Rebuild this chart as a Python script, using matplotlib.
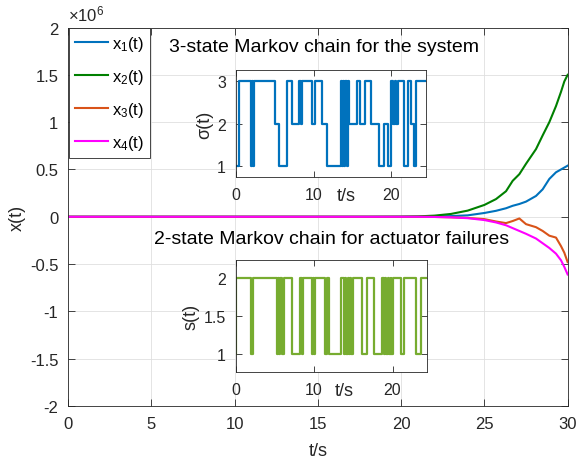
import numpy as np
import matplotlib
matplotlib.use("Agg")
import matplotlib.pyplot as plt
from matplotlib.ticker import FuncFormatter

plt.rcParams['font.family'] = ['Liberation Sans', 'DejaVu Sans']
plt.rcParams['mathtext.fontset'] = 'custom'
plt.rcParams['mathtext.rm'] = 'Liberation Sans'
plt.rcParams['mathtext.it'] = 'Liberation Sans:italic'
plt.rcParams['axes.unicode_minus'] = False

# ------- data (x values in units of 1e6) -------
t = [0, 10, 15, 18, 20, 21, 22, 23, 24, 25, 25.7, 26.3, 26.7, 27.1, 27.5,
     28.1, 28.5, 28.9, 29.3, 29.6, 29.8, 30]
x1 = [0, 0, 0, 0, 0.001, 0.002, 0.004, 0.007, 0.015, 0.04, 0.063, 0.09, 0.116,
      0.135, 0.16, 0.22, 0.29, 0.40, 0.47, 0.50, 0.52, 0.54]
x2 = [0, 0, 0, 0, 0.001, 0.004, 0.012, 0.03, 0.065, 0.125, 0.187, 0.27, 0.38,
      0.45, 0.56, 0.715, 0.86, 1.0, 1.17, 1.32, 1.43, 1.50]
x3 = [0, 0, 0, 0, 0, 0, -0.002, -0.006, -0.012, -0.025, -0.05, -0.067, -0.045,
      -0.018, -0.078, -0.11, -0.15, -0.2, -0.22, -0.31, -0.38, -0.48]
x4 = [0, 0, 0, 0, 0, 0, -0.002, -0.006, -0.015, -0.035, -0.06, -0.09, -0.12,
      -0.15, -0.18, -0.23, -0.28, -0.33, -0.39, -0.46, -0.53, -0.61]
labels = [r'x$_\mathregular{1}$(t)', r'x$_\mathregular{2}$(t)',
          r'x$_\mathregular{3}$(t)', r'x$_\mathregular{4}$(t)']

# 3-state Markov chain (switch times, new state)
sig_t = [0, 0.48, 1.97, 2.1, 2.2, 2.36, 5.0, 5.6, 6.6, 7.23, 8.2, 8.35, 8.5,
         9.8, 10.2, 11.05, 11.7, 13.5, 13.65, 13.8, 13.95, 14.1, 14.25, 14.4,
         14.6, 15.6, 16.0, 16.55, 17.4, 18.35, 19.0, 19.54, 19.97, 20.15, 20.4,
         20.6, 20.8, 21.6, 22.1, 22.45, 22.9, 23.2, 24.4]
sig_v = [1, 3, 1, 3, 1, 3, 2, 1, 3, 2, 3, 2, 3,
         2, 3, 2, 1, 3, 1, 3, 1, 3, 1, 3,
         2, 3, 2, 3, 2, 1, 2, 1, 3, 2, 3,
         2, 3, 1, 3, 2, 1, 3, 3]

# 2-state Markov chain (actuator failures)
s_t = [0, 0.05, 1.9, 2.2, 5.26, 5.4, 5.5, 5.68, 5.85, 6.1, 7.18, 8.24, 8.4,
       8.55, 9.74, 9.9, 10.0, 10.17, 11.45, 11.6, 11.88, 13.37, 13.8, 13.95,
       14.1, 14.3, 14.45, 14.6, 14.75, 14.9, 16.15, 16.8, 17.65, 18.7, 18.85,
       19.0, 19.2, 19.4, 19.55, 19.75, 19.85, 20.0, 21.06, 21.5, 23.0, 23.6, 24.4]
s_v = [1, 2, 1, 2, 1, 2, 1, 2, 1, 2, 1, 2, 1,
       2, 1, 2, 1, 2, 1, 2, 1, 2, 1, 2,
       1, 2, 1, 2, 1, 2, 1, 2, 1, 2, 1,
       2, 1, 2, 1, 2, 1, 2, 1, 2, 1, 2, 2]

colors = ['#0072BD', '#008000', '#D95319', '#FF00FF']
TXT = '#262626'
GRID = '#DFDFDF'

fig = plt.figure(figsize=(5.78, 4.6), dpi=100)

# ------- main axes -------
ax = fig.add_axes([0.1176, 0.1152, 0.8645, 0.8228])
for y, c, lab in zip([x1, x2, x3, x4], colors, labels):
    ax.plot(t, y, color=c, lw=1.5, label=lab)
ax.set_xlim(0, 30)
ax.set_ylim(-2, 2)
ax.set_xticks(np.arange(0, 31, 5))
ax.set_yticks(np.arange(-2, 2.01, 0.5))
ax.yaxis.set_major_formatter(FuncFormatter(lambda v, p: f'{v:g}'))
ax.grid(True, color=GRID, lw=0.6)
ax.set_axisbelow(True)
ax.tick_params(direction='in', top=True, right=True, length=5, width=0.6,
               labelsize=12, colors=TXT, pad=7)
for sp in ax.spines.values():
    sp.set_color(TXT)
    sp.set_linewidth(0.6)
ax.set_xlabel('t/s', fontsize=13, color=TXT, labelpad=8)
ax.set_ylabel('x(t)', fontsize=13, color=TXT, labelpad=3)
ax.text(0.0, 1.01, r'$\times\mathregular{10^{6}}$', transform=ax.transAxes,
        fontsize=12, color=TXT, ha='left', va='bottom')

leg = ax.legend(loc='upper left', fontsize=12, borderaxespad=0.05, fancybox=False,
                handlelength=2.0, handletextpad=0.25, labelspacing=0.83,
                borderpad=0.35, framealpha=1)
leg.get_frame().set_edgecolor(TXT)
leg.get_frame().set_linewidth(0.6)


# ------- insets -------
def style_inset(a):
    a.tick_params(direction='in', top=True, right=True, length=4, width=0.6,
                  labelsize=11.5, colors=TXT, pad=7)
    for sp in a.spines.values():
        sp.set_color(TXT)
        sp.set_linewidth(0.6)


ax1 = fig.add_axes([0.4076, 0.6130, 0.3289, 0.2326])
ax1.step(sig_t, sig_v, where='post', color='#0072BD', lw=1.6)
ax1.set_xlim(0, 24.4)
ax1.set_ylim(0.75, 3.25)
ax1.set_xticks([0, 10, 20])
ax1.set_yticks([1, 2, 3])
style_inset(ax1)
ax1.set_ylabel('σ(t)', fontsize=13, color=TXT, labelpad=3)
ax1.set_xlabel('t/s', fontsize=13, color=TXT)
ax1.xaxis.set_label_coords(0.58, -0.09)

ax2 = fig.add_axes([0.4078, 0.1885, 0.3310, 0.2448])
ax2.step(s_t, s_v, where='post', color='#77AC30', lw=1.6)
ax2.set_xlim(0, 24.4)
ax2.set_ylim(0.75, 2.25)
ax2.set_xticks([0, 10, 20])
ax2.set_yticks([1, 1.5, 2])
ax2.yaxis.set_major_formatter(FuncFormatter(lambda v, p: f'{v:g}'))
style_inset(ax2)
ax2.set_ylabel('s(t)', fontsize=13, color=TXT, labelpad=3)
ax2.set_xlabel('t/s', fontsize=13, color=TXT)
ax2.xaxis.set_label_coords(0.566, -0.086)

fig.text(324 / 578, 1 - 48 / 460, '3-state Markov chain for the system',
         fontsize=14, color='black', ha='center', va='center')
fig.text(332 / 578, 1 - 240 / 460, '2-state Markov chain for actuator failures',
         fontsize=14, color='black', ha='center', va='center')

fig.savefig('out.png', dpi=100)
